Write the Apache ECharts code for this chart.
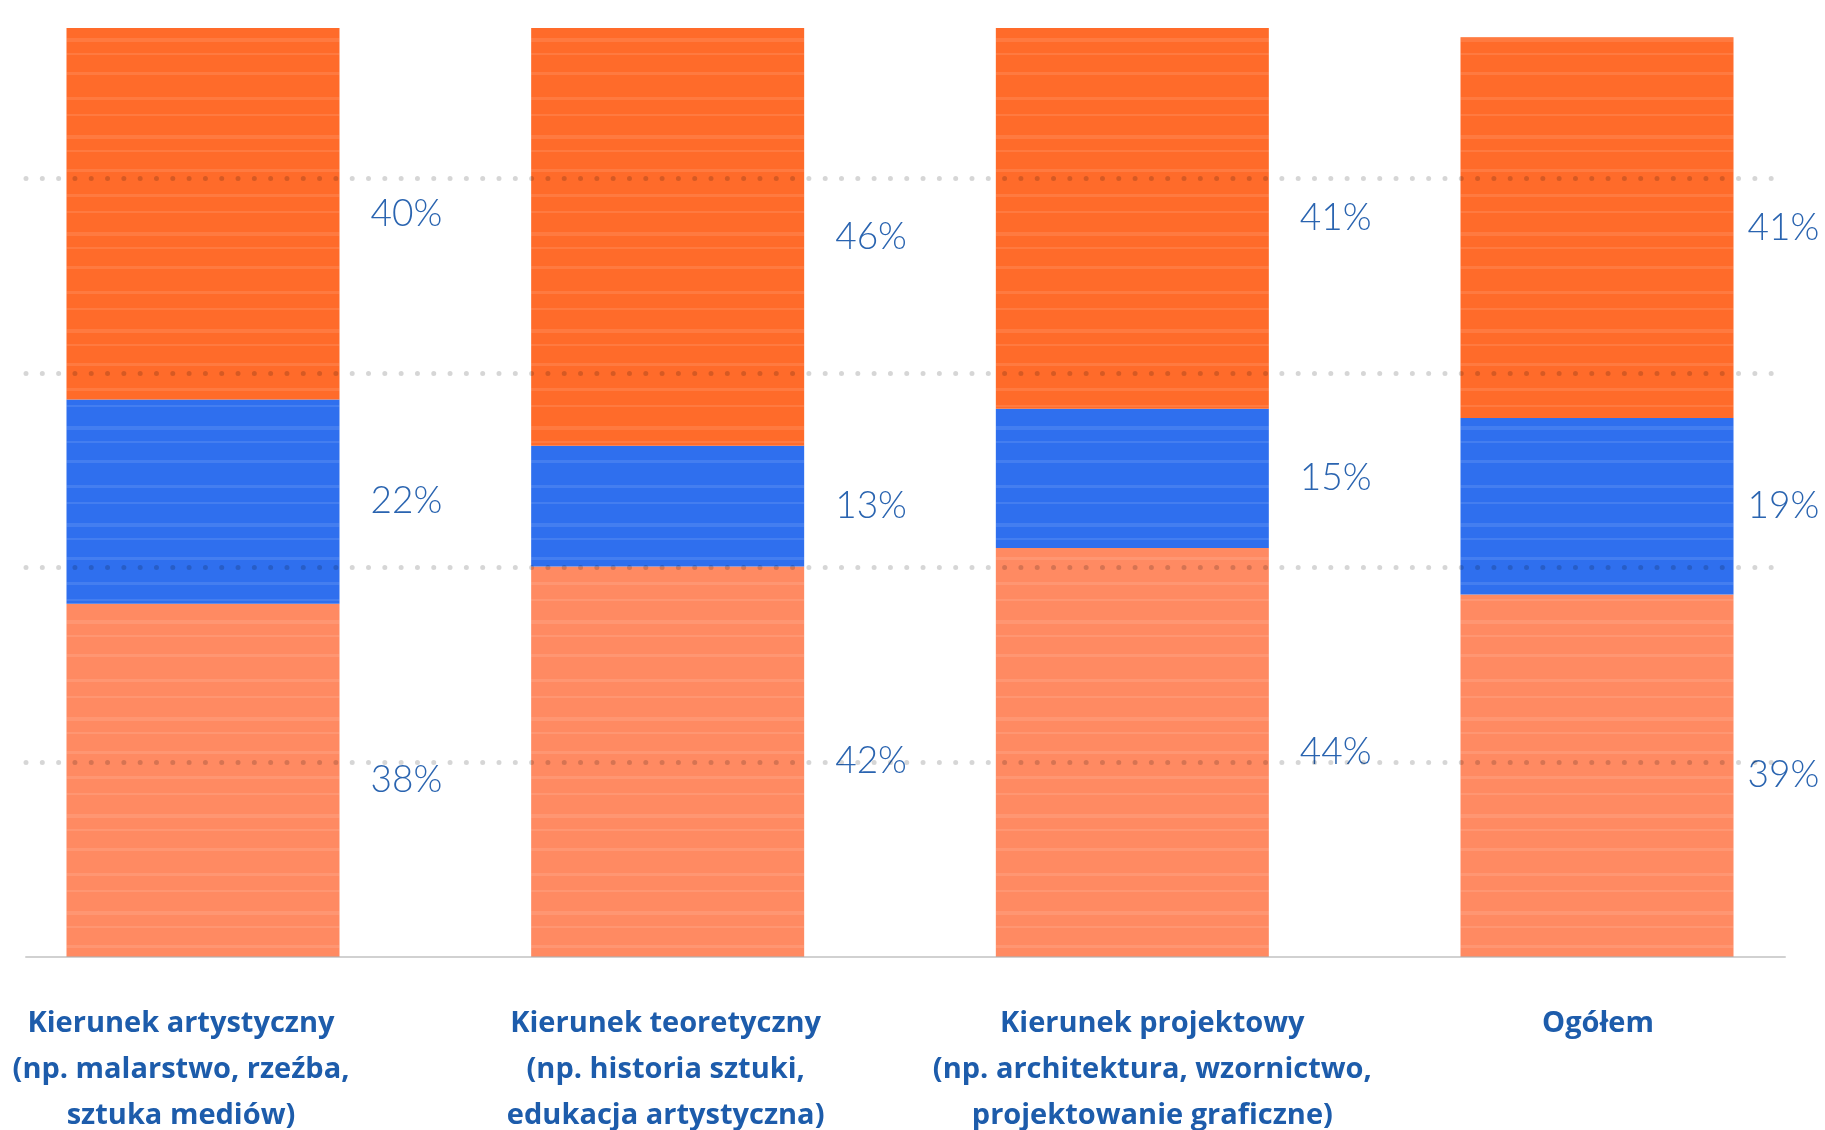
<!DOCTYPE html>
<html lang="pl">
<head>
<meta charset="utf-8">
<title>Kierunek studiów</title>
<script src="https://cdn.jsdelivr.net/npm/echarts@6/dist/echarts.min.js"></script>
<style>
  html, body { margin: 0; padding: 0; background: #ffffff; }
  #chart { width: 1825px; height: 1130px; }
</style>
</head>
<body>
<div id="chart"></div>
<script>
// Category labels (x axis)
const categories = [
  'Kierunek artystyczny\n(np. malarstwo, rzeźba,\nsztuka mediów)',
  'Kierunek teoretyczny\n(np. historia sztuki,\nedukacja artystyczna)',
  'Kierunek projektowy\n(np. architektura, wzornictwo,\nprojektowanie graficzne)',
  'Ogółem'
];

// Shares in percent, stacked bottom -> top
const bottomShare = [38, 42, 44, 39];
const middleShare = [22, 13, 15, 19];
const topShare = [40, 46, 41, 41];

// Dotted guide lines
const guideStep = 21;
const guideMax = 84;

const colors = {
  bottom: '#FF8A62',
  middle: '#2F6FEE',
  top: '#FF6B2A',
  label: '#2A64B0',
  category: '#1D5CAB'
};

// Horizontal nudge of each category caption (px, + = right)
const captionShift = [-22, -2, 20, 1];

const chart = echarts.init(document.getElementById('chart'), null, { renderer: 'canvas' });

function pctLabel() {
  return {
    show: true,
    position: 'right',
    distance: 31,
    formatter: '{c}%',
    color: colors.label,
    fontFamily: 'Lato, "Open Sans", sans-serif',
    fontWeight: 300,
    fontSize: 37
  };
}

// last bar sits near the right edge, so its labels hug it more closely
function buildData(values) {
  return values.map((v, i) => i === values.length - 1
    ? { value: v, label: { distance: 14 } }
    : v);
}

const rich = {};
captionShift.forEach((s, i) => {
  rich['c' + i] = {
    color: colors.category,
    fontFamily: '"Open Sans", Lato, sans-serif',
    fontWeight: 'bold',
    fontSize: 29,
    lineHeight: 46,
    align: 'center',
    padding: s < 0 ? [0, -2 * s, 0, 0] : [0, 0, 0, 2 * s]
  };
});

// uneven marker-stroke streaks over the flat fills
function streaks(alpha) {
  return {
    symbol: 'rect',
    symbolSize: 1,
    dashArrayX: [1, 0],
    dashArrayY: [3, 14, 2, 19, 4, 11, 2, 17, 3, 22],
    rotation: 0,
    color: 'rgba(255,255,255,' + alpha + ')'
  };
}

function barSeries(name, values, color) {
  return {
    name: name,
    type: 'bar',
    stack: 'share',
    xAxisIndex: 0,
    yAxisIndex: 0,
    barWidth: 273,
    data: buildData(values),
    itemStyle: { color: color, decal: streaks(0.1) },
    label: pctLabel(),
    z: 2
  };
}

chart.setOption({
  backgroundColor: '#ffffff',
  animation: false,
  grid: [
    { left: 203, right: 228, top: 28, bottom: 173 },
    { left: 26, right: 40, top: 178, bottom: 173 }
  ],
  xAxis: [
    {
      type: 'category',
      gridIndex: 0,
      boundaryGap: false,
      data: categories,
      axisLine: { show: false },
      axisTick: { show: false },
      axisLabel: {
        margin: 44,
        interval: 0,
        formatter: function (value, idx) {
          return value.split('\n').map(l => '{c' + idx + '|' + l + '}').join('\n');
        },
        rich: rich
      },
      splitLine: { show: false }
    },
    {
      type: 'value',
      gridIndex: 1,
      min: 0,
      max: 1,
      axisLine: { show: true, lineStyle: { color: 'rgba(0,0,0,0.18)', width: 2 } },
      axisTick: { show: false },
      axisLabel: { show: false },
      splitLine: { show: false },
      z: 10
    }
  ],
  yAxis: [
    {
      type: 'value',
      gridIndex: 0,
      min: 0,
      max: 100,
      show: false,
      splitLine: { show: false }
    },
    {
      type: 'value',
      gridIndex: 1,
      min: 0,
      max: guideMax,
      interval: guideStep,
      axisLine: { show: false },
      axisTick: { show: false },
      axisLabel: { show: false },
      splitLine: {
        show: true,
        showMinLine: false,
        lineStyle: {
          color: 'rgba(0,0,0,0.16)',
          width: 5,
          type: [0.01, 16.3],
          cap: 'round'
        }
      },
      z: 10
    }
  ],
  series: [
    barSeries('bottom', bottomShare, colors.bottom),
    barSeries('middle', middleShare, colors.middle),
    barSeries('top', topShare, colors.top)
  ]
});
</script>
</body>
</html>
